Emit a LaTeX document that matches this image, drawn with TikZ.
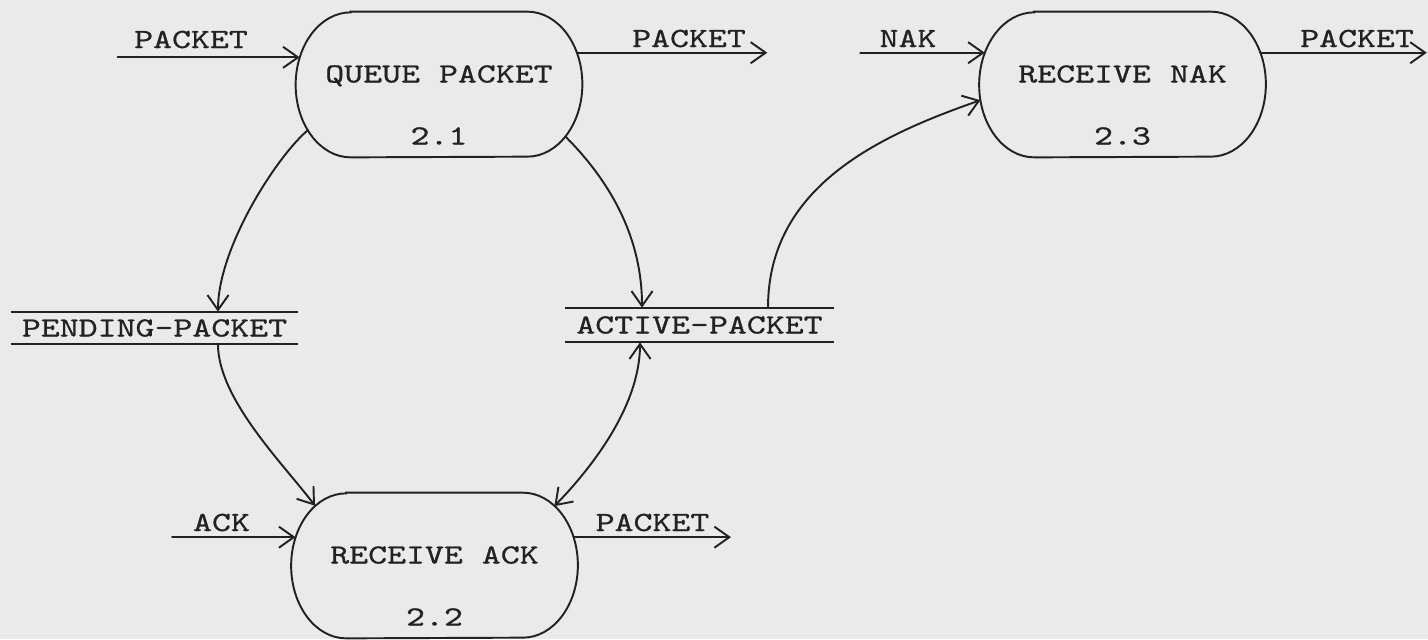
\documentclass[tikz,border=0pt]{standalone}
\usepackage{graphicx}
\usepackage{fontspec}
\usetikzlibrary{arrows.meta,calc}

\definecolor{paper}{RGB}{234,234,234}
\definecolor{ink}{RGB}{34,34,34}

% typewriter face, slightly emboldened
\newfontfamily\typew[FakeBold=0.6]{lmmono10-regular.otf}

% typewriter lettering, widened to the pitch of a Courier typeface
\newcommand\tw[1]{\scalebox{1.3}[1]{#1}}

% stadium outline of a process bubble: straight top and bottom, half-ellipse ends
\newcommand\bubble[1]{%
  \draw[outline] ($(#1.north west)+(1.1,0)$) -- ($(#1.north east)-(1.1,0)$)
    arc[start angle=90,end angle=-90,x radius=1.1cm,y radius=1.45cm]
    -- ($(#1.south west)+(1.1,0)$)
    arc[start angle=270,end angle=90,x radius=1.1cm,y radius=1.45cm] -- cycle;
  \coordinate (#1L) at ($(#1.west)+(1.1,0)$);
  \coordinate (#1R) at ($(#1.east)-(1.1,0)$);}

\tikzset{
  >={Straight Barb[length=8.5pt,width=12pt]},
  outline/.style={draw=ink, line width=1.1pt},
  flow/.style={outline, line cap=round, ->},
  both/.style={outline, line cap=round, <->},
  proc/.style={rectangle, minimum width=5.72cm, minimum height=2.9cm, inner sep=0pt},
  txt/.style={inner sep=0pt, anchor=base, text=ink, font=\fontsize{15.8}{19}\selectfont\typew},
  store/.style={rectangle, inner sep=0pt, text=ink, text height=0.34cm, text depth=0pt,
    font=\fontsize{15.8}{19}\selectfont\typew},
}

\begin{document}
\begin{tikzpicture}
\fill[paper] (0,0) rectangle (28.56,-12.78);
\useasboundingbox (0,0) rectangle (28.56,-12.78);

% processes
\node[proc] (q) at (8.78,-1.69) {};
\node[proc] (n) at (22.45,-1.69) {};
\node[proc] (a) at (8.69,-11.31) {};
\bubble{q}
\bubble{n}
\bubble{a}

\node[txt] (q-name) at ($(q)+(0,0.04)$) {\tw{QUEUE PACKET}};
\node[txt] (q-num)  at ($(q)+(0,-1.2)$) {\tw{2.1}};
\node[txt] (n-name) at ($(n)+(0,0.04)$) {\tw{RECEIVE NAK}};
\node[txt] (n-num)  at ($(n)+(0,-1.2)$) {\tw{2.3}};
\node[txt] (a-name) at ($(a)+(0,0.04)$) {\tw{RECEIVE ACK}};
\node[txt] (a-num)  at ($(a)+(0,-1.2)$) {\tw{2.2}};

% data stores
\node[store, minimum width=5.74cm, minimum height=0.64cm] (pend) at (3.09,-6.56) {\tw{PENDING-PACKET}};
\node[store, minimum width=5.38cm, minimum height=0.68cm] (act) at (13.99,-6.5) {\tw{ACTIVE-PACKET}};
\draw[outline] (pend.north west) -- (pend.north east) (pend.south west) -- (pend.south east);
\draw[outline] (act.north west) -- (act.north east) (act.south west) -- (act.south east);

% points on the bubble outlines
\coordinate (q-in)  at ($(qL)+(158:1.1cm and 1.45cm)$);
\coordinate (q-out) at ($(qR)+(26:1.1cm and 1.45cm)$);
\coordinate (q-dl)  at ($(qL)+(219:1.1cm and 1.45cm)$);
\coordinate (q-dr)  at ($(qR)+(314:1.1cm and 1.45cm)$);
\coordinate (n-in)  at ($(nL)+(154:1.1cm and 1.45cm)$);
\coordinate (n-low) at ($(nL)+(192.5:1.1cm and 1.45cm)$);
\coordinate (n-out) at ($(nR)+(26:1.1cm and 1.45cm)$);
\coordinate (a-in)  at ($(aL)+(157:1.1cm and 1.45cm)$);
\coordinate (a-out) at ($(aR)+(23:1.1cm and 1.45cm)$);
\coordinate (a-ul)  at ($(aL)+(124.5:1.1cm and 1.45cm)$);
\coordinate (a-ur)  at ($(aR)+(55:1.1cm and 1.45cm)$);

% free ends of the external flows
\coordinate (src-q)  at ($(q-in)+(-3.64,0)$);
\coordinate (dst-q)  at ($(q-out)+(3.81,0)$);
\coordinate (src-n)  at ($(n-in)+(-2.49,0)$);
\coordinate (dst-n)  at ($(n-out)+(3.33,0)$);
\coordinate (src-a)  at ($(a-in)+(-2.47,0)$);
\coordinate (dst-a)  at ($(a-out)+(3.15,0)$);

% external flows
\draw[flow] (src-q) -- (q-in);
\draw[flow] (q-out) -- (dst-q);
\draw[flow] (src-n) -- (n-in);
\draw[flow] (n-out) -- (dst-n);
\draw[flow] (src-a) -- (a-in);
\draw[flow] (a-out) -- (dst-a);

\node[txt] (l-q-in)  at (3.82,-0.96)  {\tw{PACKET}};
\node[txt] (l-q-out) at (13.78,-0.94) {\tw{PACKET}};
\node[txt] (l-n-in)  at (18.16,-0.94) {\tw{NAK}};
\node[txt] (l-n-out) at (27.14,-0.94) {\tw{PACKET}};
\node[txt] (l-a-in)  at (4.43,-10.62) {\tw{ACK}};
\node[txt] (l-a-out) at (13.05,-10.62){\tw{PACKET}};

% flows to and from the stores
\draw[flow] (q-dl) .. controls +(-0.6,-0.5) and +(0,1.3) .. ([xshift=1.27cm]pend.north);
\draw[flow] ([xshift=1.27cm]pend.south) .. controls +(0,-1.1) and +(-0.6,0.8) .. (a-ul);
\draw[flow] (q-dr) .. controls +(0.8,-0.8) and +(0,1.5) .. ([xshift=-1.15cm]act.north);
\draw[both] ([xshift=-1.19cm]act.south) .. controls +(0,-1.3) and +(0.7,0.72) .. (a-ur);
\draw[flow] ([xshift=1.37cm]act.north) .. controls +(0,2.4) and +(-2.07,-0.72) .. (n-low);
\end{tikzpicture}
\end{document}
